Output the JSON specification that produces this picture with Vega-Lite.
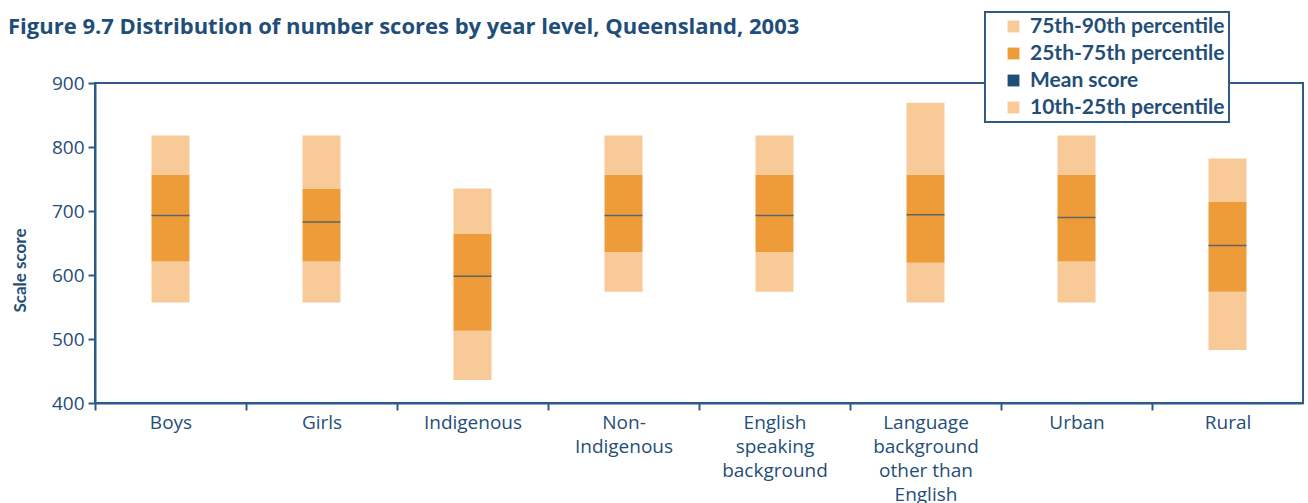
{
  "$schema": "https://vega.github.io/schema/vega-lite/v6.json",
  "width": 1208,
  "height": 320,
  "autosize": {"type": "none"},
  "padding": {"left": 95, "top": 83, "right": 5, "bottom": 100},
  "background": "white",
  "title": {
    "text": "Figure 9.7 Distribution of number scores by year level, Queensland, 2003",
    "anchor": "start",
    "frame": "group",
    "dx": -87,
    "dy": 32,
    "font": "Open Sans",
    "fontSize": 22,
    "fontWeight": "bold",
    "color": "#1f4e79"
  },
  "config": {
    "view": {"stroke": "#2d5b86", "strokeWidth": 2},
    "axis": {
      "domainColor": "#2d5b86",
      "domainWidth": 2,
      "tickColor": "#2d5b86",
      "tickWidth": 2,
      "tickSize": 7,
      "labelColor": "#1f4e79",
      "labelFont": "Open Sans",
      "labelFontSize": 19,
      "titleColor": "#1f4e79",
      "grid": false
    }
  },
  "datasets": {
    "bands": [
      {"group": "Boys", "band": "10th-25th percentile", "lo": 557, "hi": 621},
      {"group": "Boys", "band": "25th-75th percentile", "lo": 621, "hi": 757},
      {"group": "Boys", "band": "75th-90th percentile", "lo": 757, "hi": 818},
      {"group": "Girls", "band": "10th-25th percentile", "lo": 557, "hi": 621},
      {"group": "Girls", "band": "25th-75th percentile", "lo": 621, "hi": 735},
      {"group": "Girls", "band": "75th-90th percentile", "lo": 735, "hi": 818},
      {"group": "Indigenous", "band": "10th-25th percentile", "lo": 436, "hi": 513},
      {"group": "Indigenous", "band": "25th-75th percentile", "lo": 513, "hi": 664},
      {"group": "Indigenous", "band": "75th-90th percentile", "lo": 664, "hi": 735},
      {"group": "Non-Indigenous", "band": "10th-25th percentile", "lo": 574, "hi": 636},
      {"group": "Non-Indigenous", "band": "25th-75th percentile", "lo": 636, "hi": 757},
      {"group": "Non-Indigenous", "band": "75th-90th percentile", "lo": 757, "hi": 818},
      {"group": "English speaking background", "band": "10th-25th percentile", "lo": 574, "hi": 636},
      {"group": "English speaking background", "band": "25th-75th percentile", "lo": 636, "hi": 757},
      {"group": "English speaking background", "band": "75th-90th percentile", "lo": 757, "hi": 818},
      {"group": "Language background other than English", "band": "10th-25th percentile", "lo": 557, "hi": 619},
      {"group": "Language background other than English", "band": "25th-75th percentile", "lo": 619, "hi": 757},
      {"group": "Language background other than English", "band": "75th-90th percentile", "lo": 757, "hi": 869},
      {"group": "Urban", "band": "10th-25th percentile", "lo": 557, "hi": 621},
      {"group": "Urban", "band": "25th-75th percentile", "lo": 621, "hi": 757},
      {"group": "Urban", "band": "75th-90th percentile", "lo": 757, "hi": 818},
      {"group": "Rural", "band": "10th-25th percentile", "lo": 483, "hi": 574},
      {"group": "Rural", "band": "25th-75th percentile", "lo": 574, "hi": 714},
      {"group": "Rural", "band": "75th-90th percentile", "lo": 714, "hi": 782}
    ],
    "means": [
      {"group": "Boys", "mean": 693},
      {"group": "Girls", "mean": 683},
      {"group": "Indigenous", "mean": 598},
      {"group": "Non-Indigenous", "mean": 693},
      {"group": "English speaking background", "mean": 693},
      {"group": "Language background other than English", "mean": 694},
      {"group": "Urban", "mean": 690},
      {"group": "Rural", "mean": 646}
    ]
  },
  "encoding": {
    "x": {
      "field": "group",
      "type": "nominal",
      "sort": ["Boys", "Girls", "Indigenous", "Non-Indigenous", "English speaking background", "Language background other than English", "Urban", "Rural"],
      "scale": {"paddingInner": 0, "paddingOuter": 0},
      "axis": {
        "title": null,
        "labelAngle": 0,
        "labelLineHeight": 24,
        "labelPadding": 3,
        "tickOffset": -75.5,
        "labelOffset": 75.5,
        "labelExpr": "datum.label == 'Non-Indigenous' ? ['Non-', 'Indigenous'] : datum.label == 'English speaking background' ? ['English', 'speaking', 'background'] : datum.label == 'Language background other than English' ? ['Language', 'background', 'other than', 'English'] : datum.label"
      }
    }
  },
  "layer": [
    {
      "data": {"name": "bands"},
      "mark": {"type": "bar", "width": 38},
      "encoding": {
        "y": {
          "field": "lo",
          "type": "quantitative",
          "scale": {"domain": [400, 900], "nice": false, "zero": false},
          "axis": {
            "values": [400, 500, 600, 700, 800, 900],
            "title": "Scale score",
            "titleFont": "Lato",
            "titleFontSize": 17,
            "titleFontWeight": "bold",
            "titleAngle": -90,
            "titleAlign": "center",
            "titleBaseline": "middle",
            "titleX": -75,
            "titleY": 187,
            "labelPadding": 4
          }
        },
        "y2": {"field": "hi"},
        "color": {
          "field": "band",
          "type": "nominal",
          "scale": {
            "domain": ["75th-90th percentile", "25th-75th percentile", "Mean score", "10th-25th percentile"],
            "range": ["#f7ca97", "#ee9c3a", "#1f4e79", "#f7ca97"]
          },
          "legend": {
            "title": null,
            "orient": "none",
            "legendX": 890,
            "legendY": -71,
            "fillColor": "white",
            "strokeColor": "#2d5b86",
            "padding": 4,
            "symbolOffset": 14,
            "symbolType": "square",
            "symbolSize": 140,
            "symbolStrokeWidth": 0,
            "labelFont": "Lato",
            "labelFontSize": 21,
            "labelFontWeight": "bold",
            "labelColor": "#1f4e79",
            "labelOffset": 6,
            "rowPadding": 5,
            "labelLimit": 400,
            "encode": {"legend": {"update": {"strokeWidth": {"value": 2}}}}
          }
        }
      }
    },
    {
      "data": {"name": "means"},
      "mark": {"type": "tick", "size": 38, "thickness": 1.5, "color": "#1f4e79"},
      "encoding": {
        "y": {"field": "mean", "type": "quantitative"}
      }
    }
  ]
}
